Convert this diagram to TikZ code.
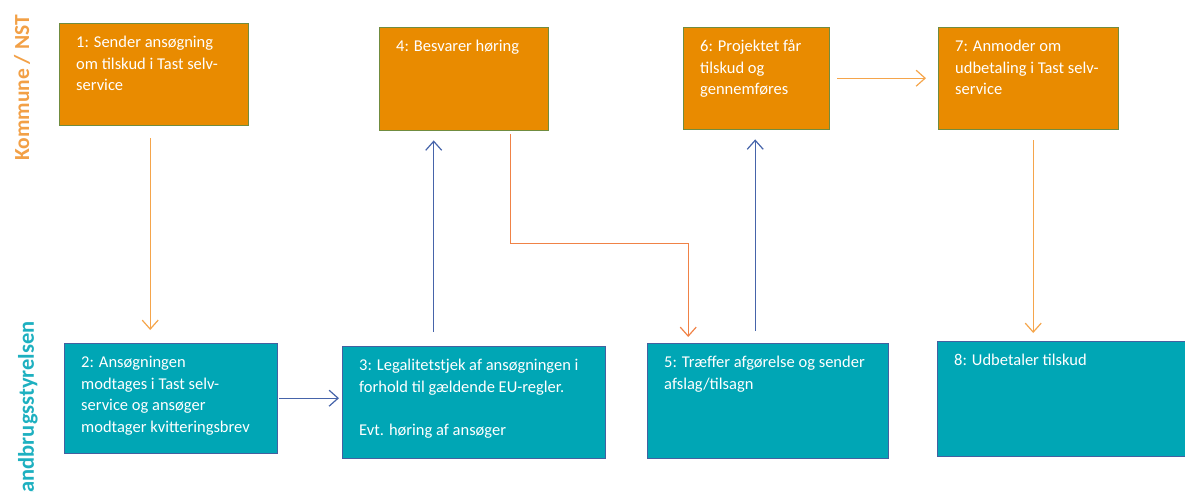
\documentclass[tikz,border=0pt]{standalone}
\usepackage{fontspec}
\setmainfont{Carlito}
\usepackage{tikz}
\usetikzlibrary{arrows.meta}

\definecolor{boxorange}{RGB}{233,139,0}
\definecolor{boxteal}{RGB}{0,166,181}
\definecolor{edgegreen}{RGB}{112,140,64}
\definecolor{edgeblue}{RGB}{68,96,160}
\definecolor{lineorange}{RGB}{245,165,75}
\definecolor{linecoral}{RGB}{240,130,70}
\definecolor{lineblue}{RGB}{70,100,170}
\definecolor{labelorange}{RGB}{242,160,70}
\definecolor{labelteal}{RGB}{30,176,192}

\newcommand{\boxtext}[3]{\parbox[t][#2pt][t]{#1pt}{\raggedright #3}}

\begin{document}
\begin{tikzpicture}[
    x=1pt, y=-1pt,
    box/.style={rectangle, anchor=north west, inner xsep=17pt, inner ysep=13pt, text=white, font=\fontsize{16.5}{21.5}\selectfont},
    kbox/.style={box, draw=edgegreen, fill=boxorange},
    lbox/.style={box, draw=edgeblue, fill=boxteal},
    arrow/.style={-{Straight Barb[length=9pt, width=16pt]}, line width=1.2pt}
]
    \useasboundingbox (0,0) rectangle (1185,491);

    % side labels
    \node[rotate=90, anchor=east, inner sep=0pt, text=labelorange, font=\fontsize{21.5}{21.5}\selectfont\bfseries] (kommune) at (22,15) {Kommune / NST};
    \node[rotate=90, anchor=east, inner sep=0pt, text=labelteal, font=\fontsize{22.5}{22.5}\selectfont\bfseries] (lst) at (28,321) {Landbrugsstyrelsen};

    % Kommune / NST
    \node[kbox] (send) at (59,23) {\boxtext{155}{76}{1: Sender ansøgning\\om tilskud i Tast selv-\\service}};
    \node[kbox] (reply) at (379,27) {\boxtext{135}{77}{4: Besvarer høring}};
    \node[kbox] (fund) at (683,27) {\boxtext{112}{76}{6: Projektet får\\tilskud og\\gennemføres}};
    \node[kbox] (request) at (938,27) {\boxtext{146}{76}{7: Anmoder om\\udbetaling i Tast selv-\\service}};

    % Landbrugsstyrelsen
    \node[lbox] (recv) at (64,343) {\boxtext{179}{84}{2: Ansøgningen\\modtages i Tast selv-\\service og ansøger\\modtager kvitteringsbrev}};
    \node[lbox] (check) at (342,346) {\boxtext{229}{86}{3: Legalitetstjek af ansøgningen i\\forhold til gældende EU-regler.\\[\baselineskip]Evt. høring af ansøger}};
    \node[lbox] (decide) at (647,343) {\boxtext{207}{89}{5: Træffer afgørelse og sender\\afslag/tilsagn}};
    \node[lbox] (payout) at (937,341) {\boxtext{219}{89}{8: Udbetaler tilskud}};

    \draw[arrow, lineorange, shorten <=13pt, shorten >=13pt] ([xshift=-3.5pt]send.south) -- ([xshift=-3.5pt]send.south |- recv.north);
    \draw[arrow, lineblue, shorten <=2pt, shorten >=3pt] (recv.east) -- (recv.east -| check.west);
    \draw[arrow, lineblue, shorten <=14pt, shorten >=10pt] ([xshift=-40pt]check.north) -- ([xshift=-40pt]check.north |- reply.south);
    \draw[arrow, linecoral, shorten <=4pt, shorten >=6pt] ([xshift=46.5pt]reply.south) -- ++(0,113) -| ([xshift=-79.5pt]decide.north);
    \draw[arrow, lineblue, shorten <=12pt, shorten >=10pt] ([xshift=-12.5pt]decide.north) -- ([xshift=-12.5pt]decide.north |- fund.south);
    \draw[arrow, lineorange, shorten <=8pt, shorten >=12pt] (fund.east) -- (fund.east -| request.west);
    \draw[arrow, lineorange, shorten <=11pt, shorten >=8pt] ([xshift=5pt]request.south) -- ([xshift=5pt]request.south |- payout.north);

\end{tikzpicture}
\end{document}
